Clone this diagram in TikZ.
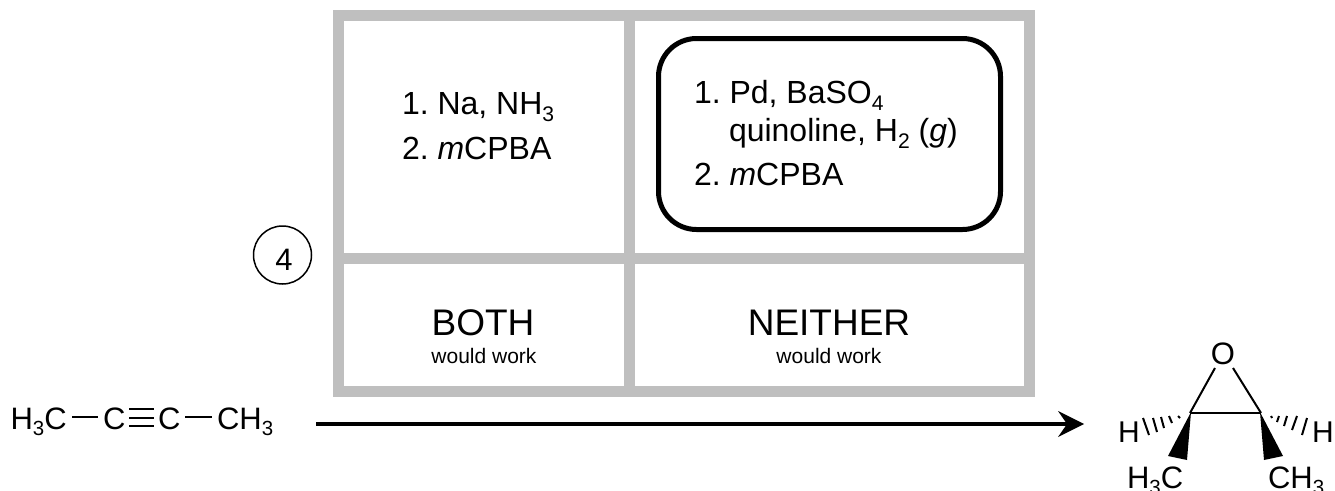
\documentclass[tikz,border=0pt]{standalone}
\usepackage{fontspec}
\setmainfont{Liberation Sans}
\frenchspacing
\newcommand{\fs}[1]{\fontsize{#1}{#1}\selectfont}
\newcommand{\subs}[1]{\raisebox{-0.22em}{\fontsize{0.66em}{0.66em}\selectfont #1}}
\tikzset{
  grid line/.style={draw=black!25!white,line width=11pt},
  txt/.style={inner sep=0pt,outer sep=0pt,anchor=base west,font=\fs{32}},
  atom/.style={inner sep=0pt,outer sep=0pt,anchor=base west,font=\fs{31}},
  small/.style={inner sep=0pt,outer sep=0pt,anchor=base,font=\fs{21}},
  big/.style={inner sep=0pt,outer sep=0pt,anchor=base,font=\fs{37}},
  bond/.style={draw=black,line width=2pt},
  hash/.style={draw=black,line width=2pt},
}
\begin{document}
\begin{tikzpicture}[x=1pt,y=-1pt]
\useasboundingbox (0,0) rectangle (1335,490);
\fill[white] (0,0) rectangle (1335,490);
% grid
\coordinate (tl) at (338.5,15.5); \coordinate (br) at (1029,391.5);
\draw[grid line] (tl) rectangle (br);
\coordinate (vt) at (629,15.5); \coordinate (vb) at (629,391.5);
\coordinate (hl) at (338.5,258.5); \coordinate (hr) at (1029,258.5);
\draw[grid line] (vt) -- (vb);
\draw[grid line] (hl) -- (hr);
% choice box
\node[draw=black,line width=5pt,rounded corners=38pt,minimum width=342pt,minimum height=191pt,inner sep=0pt] (choice) at (829.5,134) {};
% texts
\node[txt] (a1) at (402,114) {1. Na, NH\subs{3}};
\node[txt] (a2) at (402,159) {2. \textit{m}CPBA};
\node[txt] (b1) at (694,103) {1. Pd, BaSO\subs{4}};
\node[txt] (b2) at (729,141) {quinoline, H\subs{2} (\textit{g})};
\node[txt] (b3) at (694,185) {2. \textit{m}CPBA};
\node[big] (both) at (483,335) {BOTH};
\node[small] (bothw) at (484,363) {would work};
\node[big] (nei) at (829,335) {NEITHER};
\node[small] (neiw) at (829,363) {would work};
% circle
\node[draw=black,line width=1.5pt,circle,minimum size=58pt,inner sep=0pt] (ring) at (282.5,255) {};
\node[atom,anchor=base] (four) at (284,270) {4};
% alkyne
\node[atom] (m1) at (10.5,429) {H\subs{3}C};
\node[atom] (c1) at (103,429) {C};
\node[atom] (c2) at (158,429) {C};
\node[atom] (m2) at (217,429) {CH\subs{3}};
\coordinate (s1a) at (72,417); \coordinate (s1b) at (98,417);
\coordinate (s2a) at (185,417); \coordinate (s2b) at (212,417);
\draw[bond] (s1a) -- (s1b);
\draw[bond] (s2a) -- (s2b);
\coordinate (t1) at (129,417.5); \coordinate (t2) at (154,417.5);
\draw[bond] ([yshift=-8.5pt]t1) -- ([yshift=-8.5pt]t2);
\draw[bond] (t1) -- (t2);
\draw[bond] ([yshift=8.5pt]t1) -- ([yshift=8.5pt]t2);
% arrow
\coordinate (arrs) at (316,424); \coordinate (arre) at (1068,424);
\draw[draw=black,line width=4pt] (arrs) -- (arre);
\fill[black] (1084,424) -- (1058,411) -- (1067,424) -- (1058,437) -- cycle;
% epoxide
\node[atom,anchor=base] (O) at (1223,364) {O};
\coordinate (ca) at (1190,413); \coordinate (cb) at (1261,413);
\draw[bond] (ca) -- (cb);
\draw[bond] (1215,368) -- (ca);
\draw[bond] (1233,368) -- (cb);
\fill[black] (1191,412) -- (1168,456) -- (1187,460) -- cycle;
\fill[black] (1260,412) -- (1264,460) -- (1283,456) -- cycle;
% hashes left
\draw[hash] (1178,416) -- (1180,418);
\draw[hash] (1169,416) -- (1172,423);
\draw[hash] (1161,417) -- (1164,428);
\draw[hash] (1153,418) -- (1157,432);
\draw[hash] (1143,418) -- (1149,435);
% hashes right
\draw[hash] (1271,416) -- (1272,418);
\draw[hash] (1279,416) -- (1277,422);
\draw[hash] (1287,416) -- (1284,426);
\draw[hash] (1297,416) -- (1292,430);
\draw[hash] (1307,418) -- (1302,435);
\node[atom,font=\fs{30}] (hl1) at (1118,442) {H};
\node[atom,font=\fs{30}] (hr1) at (1312,442) {H};
\node[atom] (me1) at (1127,488) {H\subs{3}C};
\node[atom] (me2) at (1268,488) {CH\subs{3}};
\end{tikzpicture}
\end{document}
